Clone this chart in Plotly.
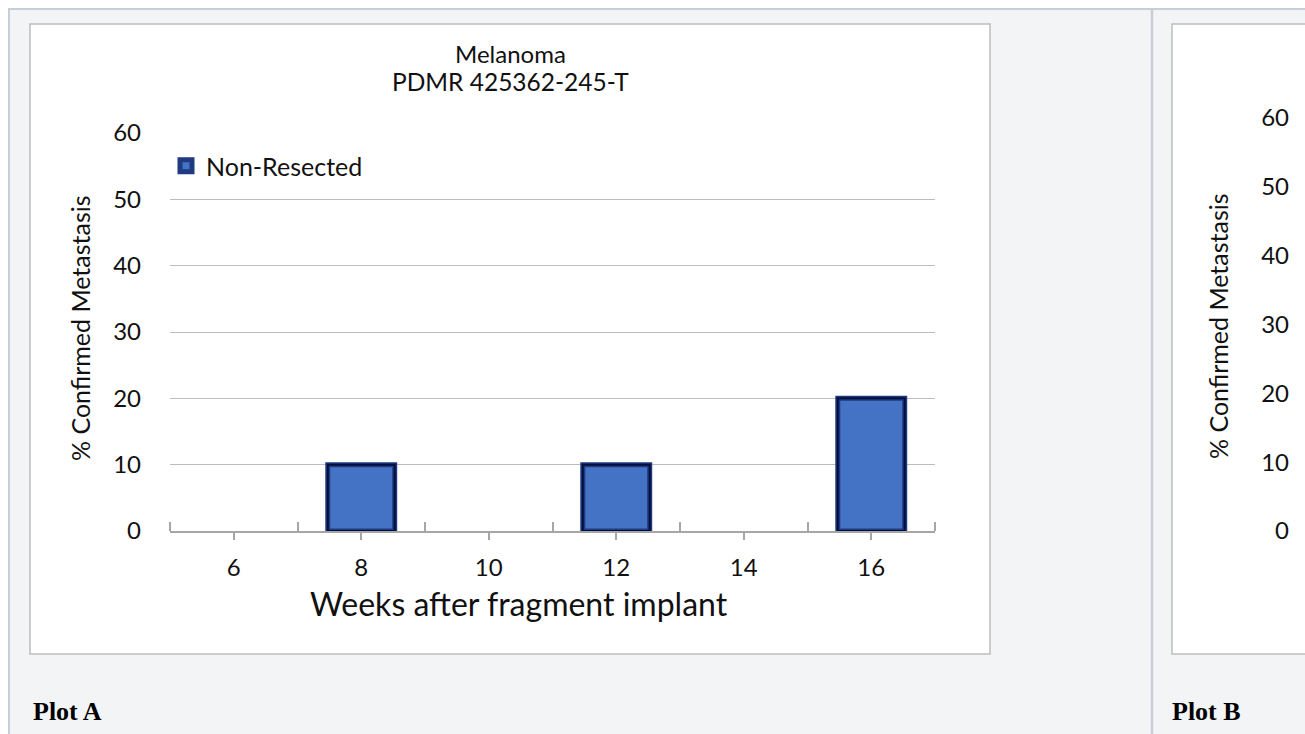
import plotly.graph_objects as go

# ---- data ----
weeks = [6, 8, 10, 12, 14, 16]
pct_confirmed = [0, 10, 0, 10, 0, 20]
y_ticks = [0, 10, 20, 30, 40, 50, 60]
x_ticks = [6, 8, 10, 12, 14, 16]
series_name = "Non-Resected"
title_line1 = "Melanoma"
title_line2 = "PDMR 425362-245-T"
x_title = "Weeks after fragment implant"
y_title = "% Confirmed Metastasis"

W, H = 1305, 734
def fx(x):
    return x / W
def fy(y):
    return 1 - y / H

FONT = "Lato"

# only non-zero bars are visible marks
bar_x = [w for w, v in zip(weeks, pct_confirmed) if v > 0]
bar_y = [v for v in pct_confirmed if v > 0]

fig = go.Figure()
fig.add_trace(go.Bar(
    x=bar_x, y=bar_y, width=1.05, name=series_name,
    marker=dict(color="#4472c4", line=dict(color="#1f3a80", width=5)),
    xaxis="x", yaxis="y", showlegend=True,
))
fig.add_trace(go.Bar(
    x=bar_x, y=bar_y, width=1.05, name=series_name,
    marker=dict(color="rgba(0,0,0,0)", line=dict(color="#020f3d", width=2)),
    xaxis="x", yaxis="y", showlegend=False, hoverinfo="skip",
))
# Plot B subplot (only its axis is visible in the view)
fig.add_trace(go.Bar(x=[], y=[], xaxis="x2", yaxis="y2", showlegend=False, hoverinfo="skip"))

shapes = [
    dict(type="rect", xref="paper", yref="paper", x0=fx(9), x1=fx(1330), y0=fy(9), y1=fy(760),
         fillcolor="#f3f4f6", line=dict(color="#c9cdd8", width=2), layer="below"),
    dict(type="line", xref="paper", yref="paper", x0=fx(1152), x1=fx(1152), y0=fy(9), y1=fy(760),
         line=dict(color="#c9cdd8", width=2.5), layer="below"),
    dict(type="rect", xref="paper", yref="paper", x0=fx(30), x1=fx(990), y0=fy(24), y1=fy(654),
         fillcolor="white", line=dict(color="#bdbdbd", width=1.5), layer="below"),
    dict(type="rect", xref="paper", yref="paper", x0=fx(1172), x1=fx(1340), y0=fy(24), y1=fy(654),
         fillcolor="white", line=dict(color="#bdbdbd", width=1.5), layer="below"),
]

annotations = [
    dict(text=title_line1, x=fx(510), y=fy(53), xref="paper", yref="paper", showarrow=False,
         xanchor="center", yanchor="middle", font=dict(family=FONT, size=24, color="#111")),
    dict(text=title_line2, x=fx(510), y=fy(81), xref="paper", yref="paper", showarrow=False,
         xanchor="center", yanchor="middle", font=dict(family=FONT, size=24.5, color="#111")),
    dict(text=x_title, x=fx(519), y=fy(603), xref="paper", yref="paper", showarrow=False,
         xanchor="center", yanchor="middle", font=dict(family=FONT, size=32, color="#111")),
    dict(text=y_title, x=fx(80), y=fy(328), xref="paper", yref="paper", showarrow=False,
         textangle=-90, xanchor="center", yanchor="middle", font=dict(family=FONT, size=25, color="#111")),
    dict(text=y_title, x=fx(1218), y=fy(326), xref="paper", yref="paper", showarrow=False,
         textangle=-90, xanchor="center", yanchor="middle", font=dict(family=FONT, size=25, color="#111")),
    dict(text="<b>Plot A</b>", x=fx(31), y=fy(711), xref="paper", yref="paper", showarrow=False,
         xanchor="left", yanchor="middle", font=dict(family="Liberation Serif", size=26, color="black")),
    dict(text="<b>Plot B</b>", x=fx(1170), y=fy(711), xref="paper", yref="paper", showarrow=False,
         xanchor="left", yanchor="middle", font=dict(family="Liberation Serif", size=26, color="black")),
]

fig.update_layout(
    width=W, height=H, autosize=False,
    margin=dict(l=0, r=0, t=0, b=0, pad=0),
    paper_bgcolor="white", plot_bgcolor="rgba(0,0,0,0)",
    barmode="overlay",
    shapes=shapes, annotations=annotations,
    font=dict(family=FONT, size=24, color="#111"),
    legend=dict(x=fx(166), y=fy(166), xanchor="left", yanchor="middle",
                bgcolor="rgba(0,0,0,0)", font=dict(family=FONT, size=25, color="#111")),
    xaxis=dict(domain=[fx(170), fx(935)], anchor="y", range=[5, 17],
               tickvals=x_ticks, ticktext=[str(v) for v in x_ticks],
               ticks="outside", ticklen=7, tickcolor="#a6a6a6", tickwidth=1.5,
               showline=True, linecolor="#a6a6a6", linewidth=1.5,
               showgrid=False, zeroline=False, ticklabelstandoff=7,
               minor=dict(tick0=5, dtick=2, ticks="inside", ticklen=9,
                          tickcolor="#a6a6a6", tickwidth=1.5, showgrid=False),
               tickfont=dict(family=FONT, size=24, color="#111"), automargin=False, fixedrange=True),
    yaxis=dict(domain=[fy(531), fy(133)], anchor="x", range=[0, 60],
               tickvals=y_ticks, ticks="", showline=False, zeroline=False,
               showgrid=True, gridcolor="#bcbcbc", gridwidth=1.4,
               ticklabelstandoff=28,
               tickfont=dict(family=FONT, size=24, color="#111"), automargin=False, fixedrange=True),
    xaxis2=dict(domain=[fx(1300), 1.0], anchor="y2", range=[0, 1],
                showticklabels=False, showline=False, showgrid=False, zeroline=False,
                ticks="", automargin=False, fixedrange=True),
    yaxis2=dict(domain=[fy(531), fy(118)], anchor="x2", range=[0, 60],
                tickvals=y_ticks, ticks="", showline=False, zeroline=False, showgrid=False,
                ticklabelstandoff=10,
                tickfont=dict(family=FONT, size=24, color="#111"), automargin=False, fixedrange=True),
)

fig.write_html("out.html", post_script="document.body.style.margin='0';",
               config={"displayModeBar": False})
